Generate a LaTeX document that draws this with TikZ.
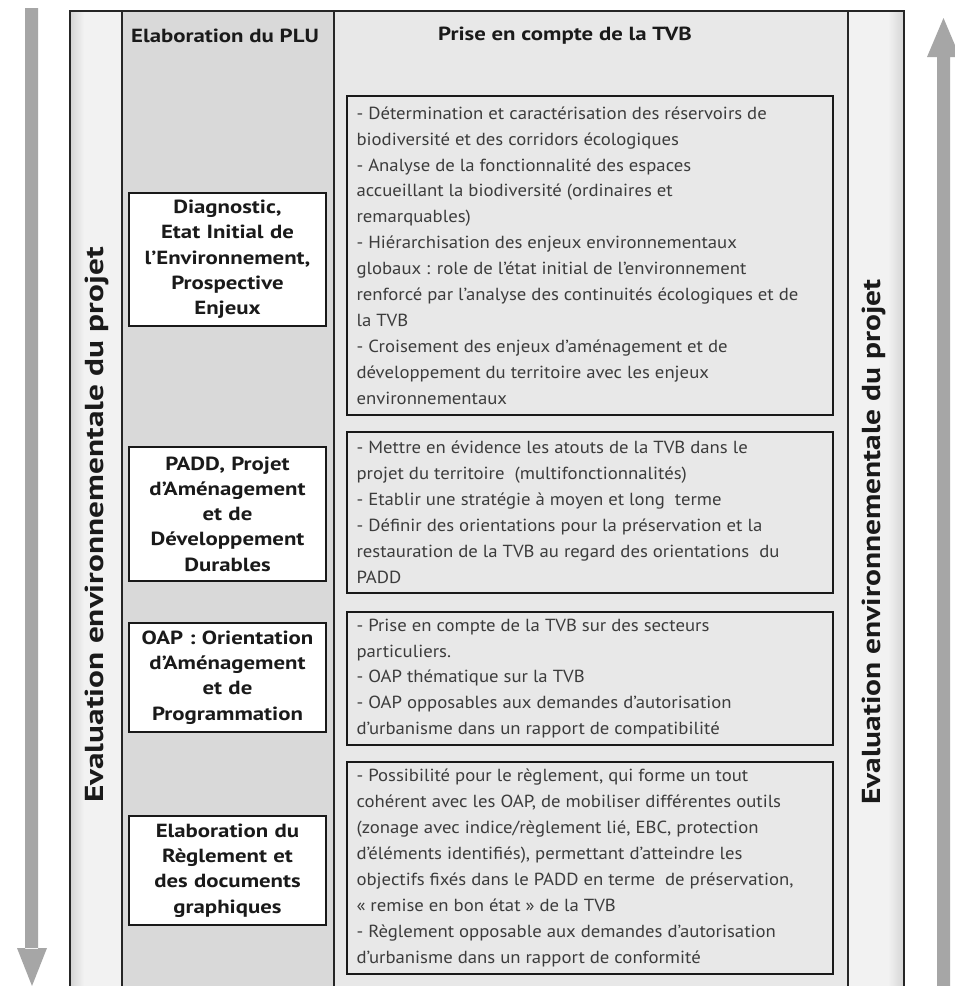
\documentclass[tikz,border=0pt]{standalone}
\usepackage{fontspec}
\setmainfont{PT Sans}
\newfontfamily\bodyfont[FakeStretch=1.07]{PT Sans}
\newfontfamily\labelfont[FakeStretch=1.2]{PT Sans Bold}
\newfontfamily\titlefontL[FakeStretch=1.28]{PT Sans Bold}
\newfontfamily\titlefontR[FakeStretch=1.21]{PT Sans Bold}
\definecolor{arrowgray}{HTML}{A6A6A6}
\definecolor{colgray}{HTML}{D9D9D9}
\definecolor{collight}{HTML}{E8E8E8}
\definecolor{colside}{HTML}{F2F2F2}
\definecolor{bodytext}{HTML}{3C3C3C}
\definecolor{labeltext}{HTML}{1A1A1A}
\tikzset{
  frameline/.style={draw=black!85, line width=1.4pt},
  tvbbox/.style={draw=black!90, line width=1.3pt, fill=collight, inner sep=0pt, minimum width=486pt},
  tvbtext/.style={anchor=west, inner sep=0pt, text=bodytext, align=left,
    font=\bodyfont\fontsize{17.5}{25.9}\selectfont},
  plubox/.style={draw=black!90, line width=1.3pt, fill=white, text=labeltext,
    text width=195pt, inner xsep=1pt, inner ysep=0pt, minimum width=197pt, align=center,
    font=\labelfont\fontsize{19}{25.3}\selectfont},
  header/.style={text=labeltext, font=\labelfont\fontsize{19}{22}\selectfont},
  sidetitle/.style={rotate=90, text=labeltext},
  bigarrow/.style={fill=arrowgray, draw=none}
}
\begin{document}
\begin{tikzpicture}[x=1pt,y=-1pt]
\useasboundingbox (0,0) rectangle (955,986);
\fill[white] (0,0) rectangle (955,986);
% column backgrounds
\fill[colside] (70,11) rectangle (122,986);
\shade[left color=black!16, right color=colside] (71,11) rectangle (84,986);
\fill[colgray] (122,11) rectangle (334,986);
\fill[collight] (334,11) rectangle (848,986);
\fill[colside] (848,11) rectangle (904,986);
\shade[left color=colside, right color=black!16] (888,11) rectangle (903,986);
% frame lines
\coordinate (tl) at (70,11);
\coordinate (tr) at (904,11);
\draw[frameline] (70,986) -- (tl) -- (tr) -- (904,986);
\draw[frameline] (122,11) -- (122,986);
\draw[frameline] (334,11) -- (334,986);
\draw[frameline] (848,11) -- (848,986);
% headers
\node[header] (h1) at (225,36) {Elaboration du PLU};
\node[header] (h2) at (565,36) {Prise en compte de la TVB};
% side titles
\node[sidetitle, font=\titlefontL\fontsize{26}{28}\selectfont] (s1) at (97,525) {Evaluation environnementale du projet};
\node[sidetitle, font=\titlefontR\fontsize{26}{28}\selectfont] (s2) at (874,542) {Evaluation environnementale du projet};
% left boxes
\node[plubox, minimum height=133pt] (p1) at (227.5,259.5) {Diagnostic,\\Etat Initial de\\l’Environnement,\\Prospective\\Enjeux};
\node[plubox, minimum height=134pt] (p2) at (227.5,514) {PADD, Projet\\d’Aménagement\\et de\\Développement\\Durables};
\node[plubox, minimum height=109pt] (p3) at (227.5,677.5) {OAP : Orientation\\d’Aménagement\\et de\\Programmation};
\node[plubox, minimum height=109pt] (p4) at (227.5,870.5) {Elaboration du\\Règlement et\\des documents\\graphiques};
% right boxes
\node[tvbbox, minimum height=319pt] (t1) at (590,255.5) {};
\node[tvbtext] (t1txt) at ([xshift=10pt]t1.west) {- Détermination et caractérisation des réservoirs de\\biodiversité et des corridors écologiques\\- Analyse de la fonctionnalité des espaces\\accueillant la biodiversité (ordinaires et\\remarquables)\\- Hiérarchisation des enjeux environnementaux\\globaux : role de l’état initial de l’environnement\\renforcé par l’analyse des continuités écologiques et de\\la TVB\\- Croisement des enjeux d’aménagement et de\\développement du territoire avec les enjeux\\environnementaux};
\node[tvbbox, minimum height=161pt] (t2) at (590,512.5) {};
\node[tvbtext] (t2txt) at ([xshift=10pt]t2.west) {- Mettre en évidence les atouts de la TVB dans le\\projet du territoire ~(multifonctionnalités)\\- Etablir une stratégie à moyen et long ~terme\\- Définir des orientations pour la préservation et la\\restauration de la TVB au regard des orientations ~du\\PADD};
\node[tvbbox, minimum height=133pt] (t3) at (590,678.5) {};
\node[tvbtext] (t3txt) at ([xshift=10pt]t3.west) {- Prise en compte de la TVB sur des secteurs\\particuliers.\\- OAP thématique sur la TVB\\- OAP opposables aux demandes d’autorisation\\d’urbanisme dans un rapport de compatibilité};
\node[tvbbox, minimum height=212pt] (t4) at (590,868) {};
\node[tvbtext] (t4txt) at ([xshift=10pt]t4.west) {- Possibilité pour le règlement, qui forme un tout\\cohérent avec les OAP, de mobiliser différentes outils\\(zonage avec indice/règlement lié, EBC, protection\\d’éléments identifiés), permettant d’atteindre les\\objectifs fixés dans le PADD en terme ~de préservation,\\« remise en bon état » de la TVB\\- Règlement opposable aux demandes d’autorisation\\d’urbanisme dans un rapport de conformité};
% arrows
\fill[bigarrow] (25,8) rectangle (38,949) (17,948) -- (47,948) -- (32,986) -- cycle;
\fill[bigarrow] (937,56) rectangle (950,986) (927,57) -- (960,57) -- (943.5,18) -- cycle;
\end{tikzpicture}
\end{document}
